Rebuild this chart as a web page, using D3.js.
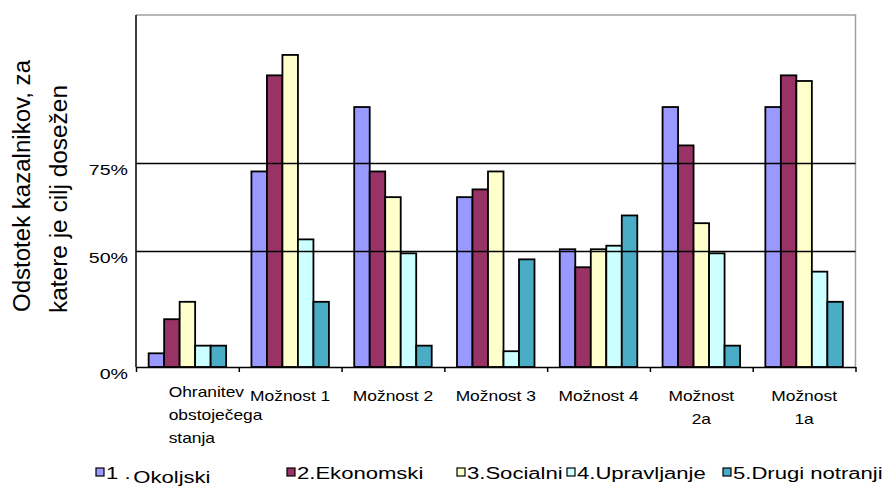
<!DOCTYPE html>
<html>
<head>
<meta charset="utf-8">
<script src="https://cdn.jsdelivr.net/npm/d3@7"></script>
<style>
body { margin: 0; background: #fff; }
text { font-family: "Liberation Sans", Arial, sans-serif; fill: #000; }
</style>
</head>
<body>
<svg id="chart" width="890" height="486"></svg>
<script>
// categories (wrapped as in the original)
var categories = ["Ohranitev obstoječega stanja", "Možnost 1", "Možnost 2", "Možnost 3", "Možnost 4", "Možnost 2a", "Možnost 1a"];
var categoryLines = [["Ohranitev", "obstoječega", "stanja"], ["Možnost 1"], ["Možnost 2"], ["Možnost 3"], ["Možnost 4"], ["Možnost", "2a"], ["Možnost", "1a"]];

// series values (share of indicators)
var okoljski    = [0.059, 0.726, 0.909, 0.653, 0.505, 0.909, 0.909];
var ekonomski   = [0.206, 0.999, 0.726, 0.675, 0.430, 0.800, 0.999];
var socialni    = [0.281, 1.057, 0.653, 0.726, 0.505, 0.579, 0.983];
var upravljanje = [0.092, 0.533, 0.490, 0.068, 0.515, 0.490, 0.411];
var drugi       = [0.092, 0.281, 0.092, 0.464, 0.601, 0.092, 0.281];

var seriesNames = ["1.Okoljski", "2.Ekonomski", "3.Socialni", "4.Upravljanje", "5.Drugi notranji"];
var colors = ["#9999FF", "#993366", "#FFFFCC", "#CCFFFF", "#4BACC6"];
var yTicks = [0, 0.5, 0.75];
var gridTicks = [0.5, 0.75];

var series = [okoljski, ekonomski, socialni, upravljanje, drugi];

var svg = d3.select("#chart");
var plotLeft = 136, plotRight = 855.5, plotTop = 15, plotBottom = 367;

// the original axis is not linear: 0-50% is stretched differently from 50-75%
var y = d3.scaleLinear().domain([0, 0.5, 0.75]).range([plotBottom, 251, 163]);
var x0 = d3.scaleBand().domain(categories).range([plotLeft, plotRight]).paddingInner(0.246).paddingOuter(0.123);
var x1 = d3.scaleBand().domain(d3.range(series.length)).range([0, x0.bandwidth()]);

// frame (top + right, grey)
svg.append("path")
    .attr("d", "M" + plotLeft + "," + plotTop + "H" + plotRight + "V" + plotBottom)
    .attr("fill", "none").attr("stroke", "#a0a0a0").attr("stroke-width", 1.5);

// bars
var groups = svg.selectAll("g.cat")
    .data(categories)
    .enter().append("g")
    .attr("class", "cat")
    .attr("transform", function(d) { return "translate(" + x0(d) + ",0)"; });

groups.selectAll("rect")
    .data(function(d, i) { return series.map(function(s, k) { return {k: k, v: s[i]}; }); })
    .enter().append("rect")
    .attr("x", function(d) { return x1(d.k); })
    .attr("y", function(d) { return y(d.v); })
    .attr("width", x1.bandwidth())
    .attr("height", function(d) { return plotBottom - y(d.v); })
    .attr("fill", function(d) { return colors[d.k]; })
    .attr("stroke", "#000")
    .attr("stroke-width", 1.8);

// gridlines on top of bars
var grid = svg.append("g")
    .attr("transform", "translate(" + plotLeft + ",0)")
    .call(d3.axisLeft(y).tickValues(gridTicks).tickSize(-(plotRight - plotLeft)).tickFormat(""));
grid.select(".domain").remove();
grid.selectAll("line").attr("stroke", "#000").attr("stroke-width", 1.5);

// y axis labels
var sx = 1.4;
var yAxis = svg.append("g")
    .attr("transform", "translate(" + plotLeft + ",0)")
    .call(d3.axisLeft(y).tickValues(yTicks).tickFormat(d3.format(".0%")).tickSize(0));
yAxis.select(".domain").remove();
yAxis.selectAll("text")
    .attr("font-family", "Liberation Sans, Arial, sans-serif")
    .attr("font-size", 14)
    .attr("x", -8 / sx)
    .attr("dy", "0.85em")
    .attr("transform", "scale(" + sx + ",1)");

// left axis line
svg.append("line")
    .attr("x1", plotLeft).attr("x2", plotLeft).attr("y1", plotTop).attr("y2", plotBottom)
    .attr("stroke", "#000").attr("stroke-width", 1.5);

// bottom axis with ticks between categories
var xb = d3.scaleLinear().domain([0, categories.length]).range([plotLeft, plotRight]);
var xAxis = svg.append("g")
    .attr("transform", "translate(0," + plotBottom + ")")
    .call(d3.axisBottom(xb).ticks(categories.length).tickSize(5).tickSizeOuter(0).tickFormat(""));
xAxis.selectAll("line, path").attr("stroke", "#000").attr("stroke-width", 1.5);

// category labels
var cs = 1.16;
groups.each(function(d, i) {
    var lines = categoryLines[i];
    var g = d3.select(this);
    var startAligned = lines.length > 2;
    lines.forEach(function(line, j) {
        var lx = startAligned ? 20 : x0.bandwidth() / 2;
        var ly = (startAligned ? 397 : 401) + j * 23;
        g.append("text")
            .attr("transform", "translate(" + lx + "," + ly + ") scale(" + cs + ",1)")
            .attr("text-anchor", startAligned ? "start" : "middle")
            .attr("font-size", 15)
            .text(line);
    });
});

// y axis title
var title = svg.append("g").attr("transform", "rotate(-90)");
title.append("text")
    .attr("x", -312).attr("y", 29.5)
    .attr("font-size", 23)
    .attr("textLength", 252).attr("lengthAdjust", "spacingAndGlyphs")
    .text("Odstotek kazalnikov, za");
title.append("text")
    .attr("x", -313).attr("y", 67)
    .attr("font-size", 23)
    .attr("textLength", 228).attr("lengthAdjust", "spacingAndGlyphs")
    .text("katere je cilj dosežen");

// legend
var legendX = [96, 287, 457, 567, 723];
var ls = 1.38;
var legend = svg.selectAll("g.leg")
    .data(seriesNames)
    .enter().append("g")
    .attr("class", "leg")
    .attr("transform", function(d, i) { return "translate(" + legendX[i] + ",468)"; });

legend.append("rect")
    .attr("width", 8).attr("height", 8)
    .attr("fill", function(d, i) { return colors[i]; })
    .attr("stroke", "#000").attr("stroke-width", 1.2);

legend.each(function(d, i) {
    var g = d3.select(this);
    var t = g.append("text")
        .attr("transform", "translate(10,11) scale(" + ls + ",1)")
        .attr("font-size", 16);
    if (i === 0) {
        var parts = d.split(".");
        t.append("tspan").text(parts[0] + " .");
        t.append("tspan").attr("dx", 2).attr("dy", 4).text(parts[1]);
    } else {
        t.text(d);
    }
});
</script>
</body>
</html>
